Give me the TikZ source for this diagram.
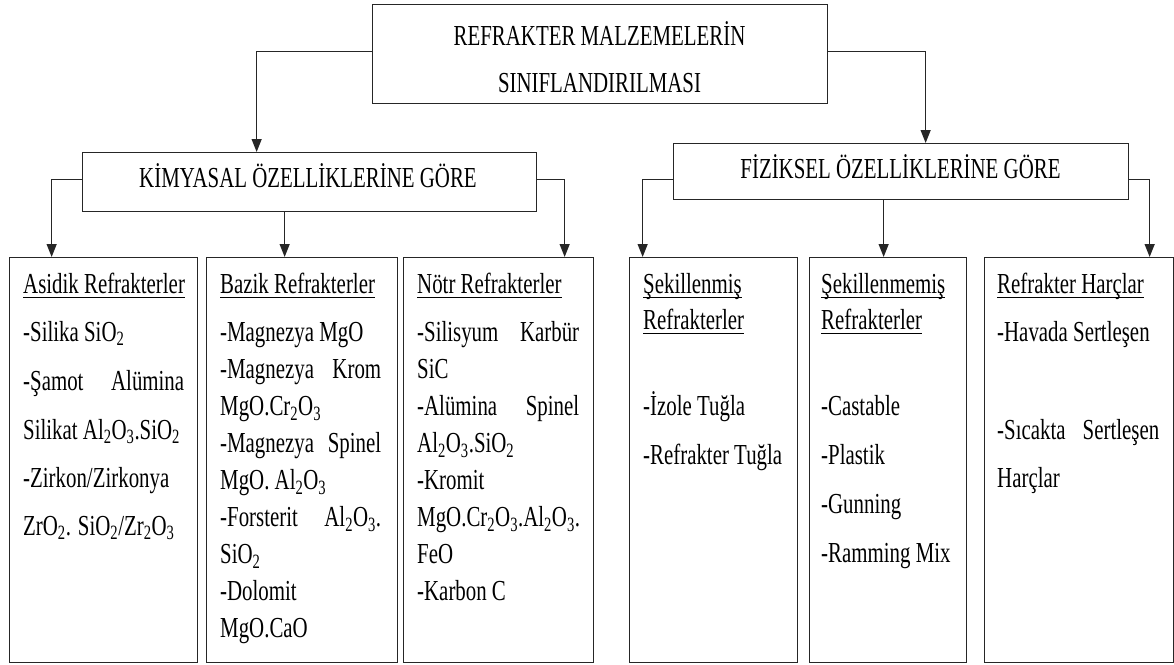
\documentclass[tikz,border=0pt]{standalone}
\usepackage{fontspec}
\setmainfont[FakeStretch=0.72]{Liberation Serif}
\usetikzlibrary{arrows.meta}

% underline with a fixed depth below the baseline
\newsavebox\ulbox
\newcommand{\ulx}[1]{\sbox\ulbox{#1}\rlap{\rule[-5pt]{\wd\ulbox}{1.4pt}}\usebox\ulbox}
% one text row, placed #1 below the previous baseline
\newcommand{\rline}[2]{{\baselineskip=#1\relax\hbox to\hsize{#2}}}
\newcommand{\sbs}[1]{\textsubscript{#1}}

\begin{document}
\begin{tikzpicture}[x=1pt,y=-1pt,
  txt/.style={font=\fontsize{29}{35}\selectfont, inner sep=0pt},
  frame/.style={draw=black!85, line width=1.3pt, rectangle, inner sep=0pt, anchor=north west},
  conn/.style={draw=black!85, line width=1.3pt, -{Triangle[width=10pt,length=13pt]}},
  col/.style={txt, anchor=base west}]
\useasboundingbox (0,0) rectangle (1174,664);

% top level
\node[frame, minimum width=455pt, minimum height=99pt] (top) at (372,4) {};
\node[txt, anchor=base] (t1) at (599.5,45) {REFRAKTER MALZEMELERİN};
\node[txt, anchor=base] (t2) at (599.5,92) {SINIFLANDIRILMASI};

% second level
\node[frame, minimum width=454pt, minimum height=59pt] (kim) at (82,152) {};
\node[txt, anchor=base] (kimt) at (308,187) {KİMYASAL ÖZELLİKLERİNE GÖRE};
\node[frame, minimum width=455pt, minimum height=56pt] (fiz) at (673,143) {};
\node[txt, anchor=base] (fizt) at (900.5,178) {FİZİKSEL ÖZELLİKLERİNE GÖRE};

% third level frames
\node[frame, minimum width=188pt, minimum height=405pt] (b1) at (9,257) {};
\node[frame, minimum width=191pt, minimum height=405pt] (b2) at (206,257) {};
\node[frame, minimum width=190pt, minimum height=405pt] (b3) at (403,257) {};
\node[frame, minimum width=168pt, minimum height=405pt] (b4) at (629,257) {};
\node[frame, minimum width=157pt, minimum height=405pt] (b5) at (809,257) {};
\node[frame, minimum width=189pt, minimum height=405pt] (b6) at (984,257) {};

% third level contents
\node[col] (c1) at (23,293) {\parbox[t]{161pt}{\lineskiplimit=-\maxdimen
  \rline{0pt}{\ulx{Asidik Refrakterler}\hfil}
  \rline{48pt}{-Silika SiO\sbs{2}\hfil}
  \rline{49pt}{-Şamot\hfill Alümina}
  \rline{49pt}{Silikat Al\sbs{2}O\sbs{3}.SiO\sbs{2}\hfil}
  \rline{48pt}{-Zirkon/Zirkonya\hfil}
  \rline{48pt}{ZrO\sbs{2}. SiO\sbs{2}/Zr\sbs{2}O\sbs{3}\hfil}}};

\node[col] (c2) at (220,293) {\parbox[t]{161pt}{\lineskiplimit=-\maxdimen
  \rline{0pt}{\ulx{Bazik Refrakterler}\hfil}
  \rline{48pt}{-Magnezya MgO\hfil}
  \rline{37.1pt}{-Magnezya\hfill Krom}
  \rline{37.1pt}{MgO.Cr\sbs{2}O\sbs{3}\hfil}
  \rline{37.1pt}{-Magnezya\hfill Spinel}
  \rline{37.1pt}{MgO. Al\sbs{2}O\sbs{3}\hfil}
  \rline{37.1pt}{-Forsterit\hfill Al\sbs{2}O\sbs{3}.}
  \rline{37.1pt}{SiO\sbs{2}\hfil}
  \rline{37.1pt}{-Dolomit\hfil}
  \rline{37.1pt}{MgO.CaO\hfil}}};

\node[col] (c3) at (417,293) {\parbox[t]{162pt}{\lineskiplimit=-\maxdimen
  \rline{0pt}{\ulx{Nötr Refrakterler}\hfil}
  \rline{48pt}{-Silisyum\hfill Karbür}
  \rline{37.1pt}{SiC\hfil}
  \rline{37.1pt}{-Alümina\hfill Spinel}
  \rline{37.1pt}{Al\sbs{2}O\sbs{3}.SiO\sbs{2}\hfil}
  \rline{37.1pt}{-Kromit\hfil}
  \rline{37.1pt}{MgO.Cr\sbs{2}O\sbs{3}.Al\sbs{2}O\sbs{3}.\hfil}
  \rline{37.1pt}{FeO\hfil}
  \rline{37.1pt}{-Karbon C\hfil}}};

\node[col] (c4) at (643,293) {\parbox[t]{150pt}{\lineskiplimit=-\maxdimen
  \rline{0pt}{\ulx{Şekillenmiş}\hfil}
  \rline{36pt}{\ulx{Refrakterler}\hfil}
  \rline{86pt}{-İzole Tuğla\hfil}
  \rline{49pt}{-Refrakter Tuğla\hfil}}};

\node[col] (c5) at (821,293) {\parbox[t]{140pt}{\lineskiplimit=-\maxdimen
  \rline{0pt}{\ulx{Şekillenmemiş}\hfil}
  \rline{36pt}{\ulx{Refrakterler}\hfil}
  \rline{86pt}{-Castable\hfil}
  \rline{49pt}{-Plastik\hfil}
  \rline{49pt}{-Gunning\hfil}
  \rline{49pt}{-Ramming Mix\hfil}}};

\node[col] (c6) at (997,293) {\parbox[t]{162pt}{\lineskiplimit=-\maxdimen
  \rline{0pt}{\ulx{Refrakter Harçlar}\hfil}
  \rline{48pt}{-Havada Sertleşen\hfil}
  \rline{98pt}{-Sıcakta\hfill Sertleşen}
  \rline{48pt}{Harçlar\hfil}}};

% connectors
\draw[conn] ([yshift=2.5pt]top.west) -| ([xshift=-53pt]kim.north);
\draw[conn] ([yshift=2.5pt]top.east) -| ([xshift=24.5pt]fiz.north);

\draw[conn] ([yshift=2.5pt]kim.west) -| ([xshift=-52pt]b1.north);
\draw[conn] ([xshift=-25pt]kim.south) -- ([xshift=-25pt]kim.south |- b2.north);
\draw[conn] ([yshift=2.5pt]kim.east) -| ([xshift=66pt]b3.north);

\draw[conn] ([yshift=-8pt]fiz.west) -| ([xshift=-71pt]b4.north);
\draw[conn] ([xshift=-17.5pt]fiz.south) -- ([xshift=-17.5pt]fiz.south |- b5.north);
\draw[conn] ([yshift=-8pt]fiz.east) -| ([xshift=70.5pt]b6.north);
\end{tikzpicture}
\end{document}
